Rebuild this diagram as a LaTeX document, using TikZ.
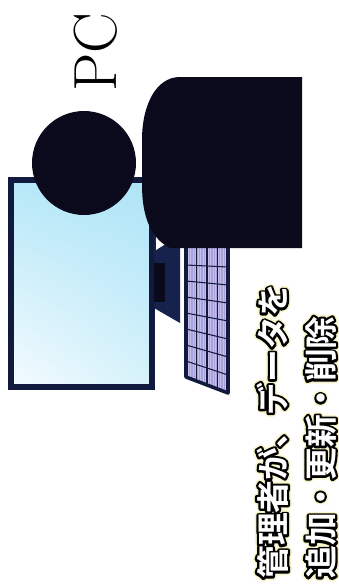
\documentclass[tikz,border=0pt]{standalone}
\usepackage{fontspec}
\usetikzlibrary{shadings}
\newfontfamily\jpfont{Noto Sans CJK JP}[UprightFont={* Bold}]
\definecolor{ink}{HTML}{0B0A1C}
\definecolor{navy}{HTML}{111A3C}
\definecolor{standblue}{HTML}{16224C}
\definecolor{keylav}{HTML}{A9A2DA}
\definecolor{keystripe}{HTML}{C4BEEA}
\definecolor{scrA}{HTML}{B6E8F8}
\definecolor{scrB}{HTML}{AEE4F7}
\definecolor{scrC}{HTML}{F4FBFE}
\definecolor{scrD}{HTML}{D6F2FB}
% white letters with a black rim and a pale halo
\newcommand\rimtext[1]{%
  \rlap{\special{pdf:literal direct 0.97 0.96 0.78 RG 0.97 0.96 0.78 rg 1 j 2 Tr 6.5 w}#1}%
  \rlap{\special{pdf:literal direct 0 0 0 RG 0 0 0 rg 1 j 2 Tr 3.8 w}#1}%
  \special{pdf:literal direct 1 1 1 rg 0 Tr}#1%
  \special{pdf:literal direct 0 g 0 Tr}}
\begin{document}
\begin{tikzpicture}[x=0.03cm,y=-0.03cm,
    screen/.style={draw=navy,line width=5pt},
    silhouette/.style={fill=ink},
    msg/.style={rotate=90,anchor=base west,inner sep=0pt,font=\jpfont\fontsize{28}{34}\selectfont}]
    \useasboundingbox (0,0) rectangle (339,586);
    % monitor
    \shadedraw[screen,upper left=scrA,upper right=scrB,
        lower left=scrC,lower right=scrD] (11,180) rectangle (152,387);
    % stand
    \fill[standblue] (154,232) -- (180,232) -- (180,323) -- (154,308) -- cycle;
    \fill[ink] (154,263) rectangle (165,302);
    \fill[white] (156,229) -- (167,243) -- (156,250) -- cycle;
    % keyboard
    \fill[keylav] (186,246) -- (228,246) -- (228,393) -- (186,377) -- cycle;
    \begin{scope}
        \clip (186,246) -- (228,246) -- (228,393) -- (186,377) -- cycle;
        \foreach \x in {188,190.5,...,228}
            \draw[keystripe,line width=0.5pt] (\x,246) -- (\x,395);
    \end{scope}
    \foreach \x in {196.5,207,217.5}
        \draw[navy,line width=0.9pt] (\x,246) -- (\x,{377+0.381*(\x-186)});
    \foreach \k in {1,...,7}
        \draw[navy,line width=0.9pt] (186,{249+16*\k}) -- (228,{249+18*\k});
    \draw[navy,line width=3pt,line join=round] (186,246) -- (228,246) -- (228,393) -- (186,377) -- cycle;
    % person seen from behind
    \fill[silhouette] (302,77) -- (180,77) .. controls (156,77) and (142,105) .. (142,140)
        -- (142,185) .. controls (142,215) and (150,238) .. (170,248) -- (302,248) -- cycle;
    \fill[silhouette] (84,163) circle[radius=52];
    % labels
    \node[rotate=90,anchor=base west,inner sep=0pt,font=\fontsize{52}{60}\selectfont] (pclabel) at (116,92) {PC};
    \node[msg] (msgtop) at (285,579) {\rimtext{管理者が、データを}};
    \node[msg] (msgbottom) at (333,579) {\rimtext{追加・更新・削除}};
\end{tikzpicture}
\end{document}
